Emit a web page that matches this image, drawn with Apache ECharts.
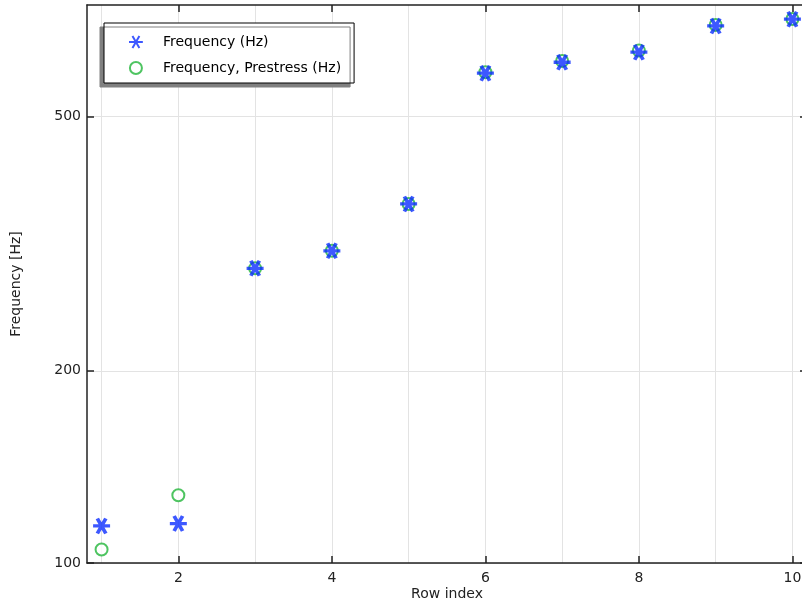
<!DOCTYPE html>
<html>
<head>
<meta charset="utf-8">
<script src="https://cdn.jsdelivr.net/npm/echarts@6/dist/echarts.min.js"></script>
<style>
  html, body { margin: 0; padding: 0; background: #fff; }
  #chart { width: 802px; height: 604px; }
</style>
</head>
<body>
<div id="chart"></div>
<script>
const rowIndex = [1, 2, 3, 4, 5, 6, 7, 8, 9, 10]
const frequency = [114.3, 115.3, 289.4, 308.3, 365.0, 584.9, 608.5, 631.0, 693.7, 710.8]
const frequencyPrestress = [105.0, 127.7, 289.4, 308.3, 365.0, 587.0, 611.4, 634.6, 696.2, 711.3]
const xTickLabels = [2, 4, 6, 8, 10]
const xGridValues = [1, 2, 3, 4, 5, 6, 7, 8, 9, 10]
const yTickLabels = [100, 200, 500]

const font = 'DejaVu Sans'
const axisColor = '#222'
const gridColor = '#e3e3e3'

// six-armed asterisk, drawn as strokes
const starPath = 'path://M-10,0L10,0M-5,-8.66L5,8.66M5,-8.66L-5,8.66'

function pairs(values) {
  return rowIndex.map(function(x, i) { return [x, values[i]] })
}

const chart = echarts.init(document.getElementById('chart'))

const option = {
  animation: false,
  textStyle: { fontFamily: font },
  grid: { left: 87, top: 5, width: 720, height: 558, containLabel: false, outerBoundsMode: 'none' },
  legend: {
    orient: 'vertical',
    left: 104,
    top: 23,
    padding: [12, 13, 8, 24],
    itemWidth: 44,
    itemHeight: 12,
    itemGap: 12,
    backgroundColor: '#fff',
    borderColor: '#000',
    borderWidth: 1,
    borderRadius: 0,
    shadowColor: '#808080',
    shadowBlur: 0,
    shadowOffsetX: -4,
    shadowOffsetY: 4,
    textStyle: { fontFamily: font, fontSize: 14, color: '#000' }
  },
  xAxis: [{
    type: 'value',
    min: 0.81,
    max: 10.19,
    position: 'bottom',
    name: 'Row index',
    nameLocation: 'middle',
    nameGap: 24,
    nameMoveOverlap: false,
    nameTextStyle: { fontFamily: font, fontSize: 14, color: axisColor },
    axisLine: { onZero: false, lineStyle: { color: axisColor, width: 1.5 } },
    axisTick: { inside: true, length: 7, customValues: xTickLabels, lineStyle: { color: axisColor, width: 1.5 } },
    axisLabel: { customValues: xTickLabels, margin: 8, fontFamily: font, fontSize: 14, color: axisColor },
    splitLine: { show: false }
  }, {
    type: 'value',
    min: 0.81,
    max: 10.19,
    position: 'top',
    axisLine: { onZero: false, lineStyle: { color: axisColor, width: 1.5 } },
    axisTick: { inside: true, length: 7, customValues: xTickLabels, lineStyle: { color: axisColor, width: 1.5 } },
    axisLabel: { show: false },
    splitLine: { show: false }
  }, {
    type: 'value',
    min: 0.81,
    max: 10.19,
    position: 'bottom',
    axisLine: { show: false },
    axisTick: { show: false, customValues: xGridValues },
    axisLabel: { show: false },
    splitLine: { show: true, lineStyle: { color: gridColor, width: 1 } }
  }],
  yAxis: [{
    type: 'log',
    logBase: 10,
    min: 100,
    max: 748,
    position: 'left',
    name: 'Frequency [Hz]',
    nameLocation: 'middle',
    nameGap: 64,
    nameTextStyle: { fontFamily: font, fontSize: 14, color: axisColor },
    axisLine: { onZero: false, lineStyle: { color: axisColor, width: 1.5 } },
    axisTick: { inside: true, length: 7, customValues: yTickLabels, lineStyle: { color: axisColor, width: 1.5 } },
    axisLabel: { customValues: yTickLabels, margin: 6, fontFamily: font, fontSize: 14, color: axisColor },
    splitLine: { show: true, lineStyle: { color: gridColor, width: 1 } }
  }, {
    type: 'log',
    logBase: 10,
    min: 100,
    max: 748,
    position: 'right',
    axisLine: { onZero: false, lineStyle: { color: axisColor, width: 1.5 } },
    axisTick: { inside: true, length: 7, customValues: yTickLabels, lineStyle: { color: axisColor, width: 1.5 } },
    axisLabel: { show: false },
    splitLine: { show: false }
  }],
  series: [{
    name: 'Frequency (Hz)',
    type: 'scatter',
    xAxisIndex: 0,
    yAxisIndex: 0,
    data: pairs(frequency),
    symbol: starPath,
    symbolSize: [17, 15],
    itemStyle: { color: '#0d2eff', borderColor: '#0d2eff', borderWidth: 3.5 },
    z: 3
  }, {
    name: 'Frequency, Prestress (Hz)',
    type: 'scatter',
    xAxisIndex: 0,
    yAxisIndex: 0,
    data: pairs(frequencyPrestress),
    symbol: 'emptyCircle',
    symbolSize: 12,
    itemStyle: { color: '#22b53a', borderColor: '#22b53a', borderWidth: 2 },
    z: 2
  }]
}

chart.setOption(option)
window.addEventListener('resize', function() {
  chart.resize()
})
</script>
</body>
</html>
